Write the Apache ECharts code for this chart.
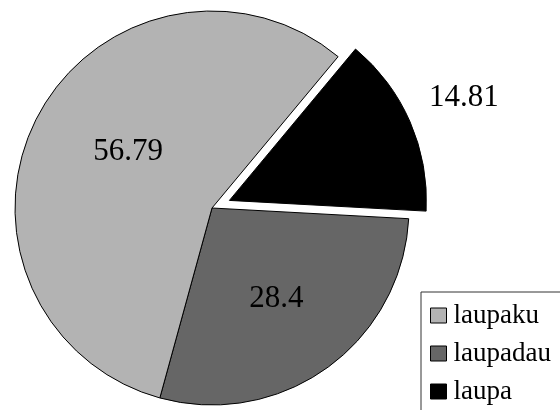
<!DOCTYPE html>
<html>
<head>
<meta charset="utf-8">
<script src="https://cdn.jsdelivr.net/npm/echarts@6/dist/echarts.min.js"></script>
<style>html,body{margin:0;padding:0;background:#fff;}#c{width:560px;height:410px;}</style>
</head>
<body>
<div id="c"></div>
<script>
var categories = ['laupa', 'laupadau', 'laupaku'];
var values = [14.81, 28.4, 56.79];
var colors = ['#000000', '#666666', '#b3b3b3'];
var legendOrder = ['laupaku', 'laupadau', 'laupa'];

var FONT = "'Liberation Serif', 'Times New Roman', serif";
var chart = echarts.init(document.getElementById('c'), null, {renderer: 'canvas'});
var data = categories.map(function (name, i) {
  var item = {name: name, value: values[i], itemStyle: {color: colors[i]}};
  if (i === 0) {
    item.selected = true;
    item.label = {position: 'outside'};
  } else if (i === 1) {
    item.label = {position: 'inside', offset: [5, 8]};
  } else {
    item.label = {position: 'inside', offset: [6, -9]};
  }
  return item;
});
chart.setOption({
  animation: false,
  backgroundColor: '#fff',
  legend: {
    data: legendOrder,
    orient: 'vertical',
    left: 421,
    top: 292,
    height: 160,
    padding: [10, 40, 30, 9],
    itemGap: 11,
    itemWidth: 16,
    itemHeight: 15,
    icon: 'rect',
    borderColor: '#333',
    borderWidth: 1,
    itemStyle: {borderColor: '#000', borderWidth: 1},
    textStyle: {fontFamily: FONT, fontSize: 27, color: '#000', lineHeight: 27, padding: [0, 0, 0, 2]}
  },
  series: [{
    type: 'pie',
    center: [212, 208],
    radius: [0, 197],
    startAngle: 50.2,
    clockwise: true,
    selectedMode: 'single',
    selectedOffset: 19,
    avoidLabelOverlap: false,
    itemStyle: {borderColor: '#000', borderWidth: 1},
    label: {show: true, formatter: '{c}', fontFamily: FONT, fontSize: 31, color: '#000'},
    labelLine: {show: false, length: 0, length2: 0},
    labelLayout: function (p) {
      if (p.dataIndex === 0) { return {dx: 14, dy: -24}; }
      return {};
    },
    emphasis: {disabled: true},
    data: data
  }]
});
</script>
</body>
</html>
